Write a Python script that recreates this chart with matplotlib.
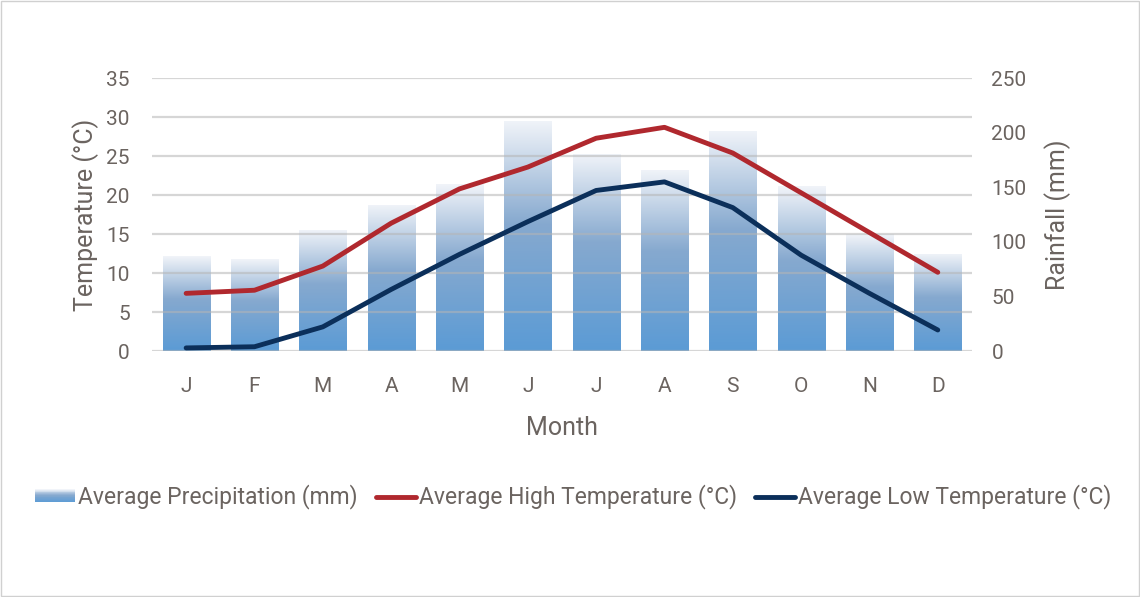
import numpy as np
import matplotlib.pyplot as plt
from matplotlib.colors import LinearSegmentedColormap
from matplotlib.legend_handler import HandlerBase
from matplotlib.patches import Rectangle

months = ['J', 'F', 'M', 'A', 'M', 'J', 'J', 'A', 'S', 'O', 'N', 'D']
precip_mm = [87, 84, 111, 134, 153, 211, 181, 166, 202, 151, 107, 89]
high_c = [7.4, 7.8, 10.9, 16.4, 20.8, 23.6, 27.3, 28.7, 25.4, 20.3, 15.2, 10.1]
low_c = [0.4, 0.55, 3.1, 7.9, 12.4, 16.6, 20.6, 21.7, 18.4, 12.3, 7.4, 2.7]

TEXT = '#6b6460'
RED = '#b0282e'
NAVY = '#0b2f5a'

plt.rcParams['font.family'] = ['Roboto', 'DejaVu Sans']

# light top -> blue bottom, same as the bars
bar_cmap = LinearSegmentedColormap.from_list(
    'precip', [(0.0, '#5b9bd5'), (0.55, '#86a9cf'), (1.0, '#f1f4f9')])


class GradientHandler(HandlerBase):
    def create_artists(self, legend, orig_handle, xdescent, ydescent,
                       width, height, fontsize, trans):
        n = 16
        h = height / n
        arts = []
        for i in range(n):
            r = Rectangle((-xdescent, -ydescent + i * h), width, h * 1.05,
                          facecolor=bar_cmap(i / (n - 1)), linewidth=0,
                          transform=trans)
            arts.append(r)
        return arts


fig = plt.figure(figsize=(11.4, 5.97), dpi=100)
ax = fig.add_axes([0.1333, 0.412, 0.7193, 0.457])
ax2 = ax.twinx()

x = np.arange(len(months))
bars = ax2.bar(x, precip_mm, width=0.69, color='none', linewidth=0)
grad = np.linspace(1, 0, 256).reshape(-1, 1)
for b in bars:
    x0, w, hgt = b.get_x(), b.get_width(), b.get_height()
    im = ax2.imshow(grad, cmap=bar_cmap, aspect='auto',
                    extent=(x0, x0 + w, 0, hgt), vmin=0, vmax=1)
    im.set_clip_path(b)

ax2.set_xlim(-0.5, 11.5)
ax2.set_ylim(0, 250)
ax2.set_yticks(range(0, 251, 50))

ax.set_zorder(ax2.get_zorder() + 1)
ax.patch.set_visible(False)

l1, = ax.plot(x, high_c, color=RED, lw=3.5, solid_capstyle='round')
l2, = ax.plot(x, low_c, color=NAVY, lw=3.5, solid_capstyle='round')

ax.set_xlim(-0.5, 11.5)
ax.set_ylim(0, 35)
ax.set_yticks(range(0, 36, 5))
ax.set_xticks(x)
ax.set_xticklabels(months)
ax.grid(axis='y', color='#b5b5b5', alpha=0.55, lw=1.6)
ax.grid(axis='x', visible=False)

for a in (ax, ax2):
    for s in a.spines.values():
        s.set_visible(False)
ax.tick_params(axis='y', length=0, pad=16, labelsize=15, labelcolor=TEXT)
ax.tick_params(axis='x', length=0, pad=19, labelsize=15, labelcolor=TEXT)
ax2.tick_params(axis='y', length=0, pad=14, labelsize=15, labelcolor=TEXT)

ax.set_xlabel('Month', fontsize=18, color=TEXT, labelpad=14)
ax.set_ylabel('Temperature (°C)', fontsize=18, color=TEXT, labelpad=5)
ax2.set_ylabel('Rainfall (mm)', fontsize=18, color=TEXT, labelpad=13)

fig.legend([bars, l1, l2],
           ['Average Precipitation (mm)', 'Average High Temperature (°C)',
            'Average Low Temperature (°C)'],
           handler_map={type(bars): GradientHandler()},
           loc='center', bbox_to_anchor=(0.503, 0.1675), ncol=3,
           frameon=False, fontsize=16.5, labelcolor=TEXT,
           handlelength=1.75, handleheight=0.52, handletextpad=0.12,
           columnspacing=0.8)

fig.patches.append(Rectangle((0.0005, 0.001), 0.999, 0.998,
                             transform=fig.transFigure, fill=False,
                             edgecolor='#d0d0d0', lw=1))

fig.savefig('out.png', dpi=100)
